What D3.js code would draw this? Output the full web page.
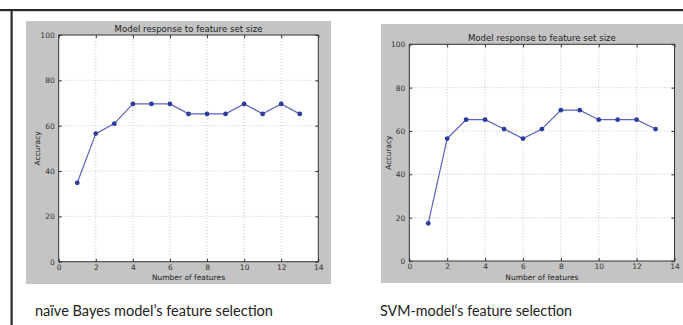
<!DOCTYPE html>
<html>
<head>
<meta charset="utf-8">
<script src="https://cdn.jsdelivr.net/npm/d3@7"></script>
<style>
  body { margin: 0; background: #fff; }
  svg { display: block; }
</style>
</head>
<body>
<div id="chart"></div>
<script>
// number of features on the x axis
const features = [1, 2, 3, 4, 5, 6, 7, 8, 9, 10, 11, 12, 13];
// accuracy (%) for each feature count
const bayesAccuracy = [34.8, 56.5, 60.9, 69.6, 69.6, 69.6, 65.2, 65.2, 65.2, 69.6, 65.2, 69.6, 65.2];
const svmAccuracy = [17.4, 56.5, 65.2, 65.2, 60.9, 56.5, 60.9, 69.6, 69.6, 65.2, 65.2, 65.2, 60.9];
const xTicks = [0, 2, 4, 6, 8, 10, 12, 14];
const yTicks = [0, 20, 40, 60, 80, 100];
const chartTitle = 'Model response to feature set size';
const xLabel = 'Number of features';
const yLabel = 'Accuracy';
const captions = ['naïve Bayes model’s feature selection', 'SVM-model‘s feature selection'];

const W = 683, H = 325;
const svg = d3.select('#chart').append('svg')
  .attr('width', W)
  .attr('height', H);

// page frame lines (top + left)
svg.append('rect').attr('x', 0).attr('y', 9).attr('width', W).attr('height', 2.2).attr('fill', '#2a2a2a');
svg.append('rect').attr('x', 10.5).attr('y', 9).attr('width', 2.2).attr('height', H - 9).attr('fill', '#2a2a2a');

function drawPanel(cfg, values) {
  // gray figure background
  svg.append('rect')
    .attr('x', cfg.panel[0]).attr('y', cfg.panel[1])
    .attr('width', cfg.panel[2]).attr('height', cfg.panel[3])
    .attr('fill', '#c4c4c4');

  const x = d3.scaleLinear().domain([0, 14]).range([cfg.left, cfg.right]);
  const y = d3.scaleLinear().domain([0, 100]).range([cfg.bottom, cfg.top]);

  const g = svg.append('g');
  g.append('rect')
    .attr('x', cfg.left).attr('y', cfg.top)
    .attr('width', cfg.right - cfg.left).attr('height', cfg.bottom - cfg.top)
    .attr('fill', '#fff');

  // grid
  g.selectAll('.vgrid').data(xTicks.slice(1, -1)).enter().append('line')
    .attr('x1', d => x(d)).attr('x2', d => x(d))
    .attr('y1', cfg.top).attr('y2', cfg.bottom)
    .attr('stroke', '#b8b8b8').attr('stroke-width', 0.8).attr('stroke-dasharray', '1,2');
  g.selectAll('.hgrid').data(yTicks.slice(1, -1)).enter().append('line')
    .attr('y1', d => y(d)).attr('y2', d => y(d))
    .attr('x1', cfg.left).attr('x2', cfg.right)
    .attr('stroke', '#b8b8b8').attr('stroke-width', 0.8).attr('stroke-dasharray', '1,2');

  // axes, ticks inward
  const axStyle = sel => {
    sel.select('.domain').remove();
    sel.selectAll('line').attr('stroke', '#333');
    sel.selectAll('text').attr('fill', '#333').style('font-family', 'DejaVu Sans').style('font-size', '7.5px');
  };
  g.append('g').attr('transform', `translate(0,${cfg.bottom})`)
    .call(d3.axisBottom(x).tickValues(xTicks).tickSizeInner(-3).tickPadding(3))
    .call(axStyle);
  g.append('g').attr('transform', `translate(${cfg.left},0)`)
    .call(d3.axisLeft(y).tickValues(yTicks).tickSizeInner(-3).tickPadding(4))
    .call(axStyle);
  g.append('g').attr('transform', `translate(0,${cfg.top})`)
    .call(d3.axisTop(x).tickValues(xTicks).tickSizeInner(-3).tickFormat(''))
    .call(axStyle);
  g.append('g').attr('transform', `translate(${cfg.right},0)`)
    .call(d3.axisRight(y).tickValues(yTicks).tickSizeInner(-3).tickFormat(''))
    .call(axStyle);

  g.append('rect')
    .attr('x', cfg.left).attr('y', cfg.top)
    .attr('width', cfg.right - cfg.left).attr('height', cfg.bottom - cfg.top)
    .attr('fill', 'none').attr('stroke', '#333').attr('stroke-width', 1);

  // data
  const pts = features.map((f, i) => [f, values[i]]);
  g.append('path')
    .datum(pts)
    .attr('d', d3.line().x(d => x(d[0])).y(d => y(d[1])))
    .attr('fill', 'none').attr('stroke', '#5b63c4').attr('stroke-width', 1.2);
  g.selectAll('.pt').data(pts).enter().append('circle')
    .attr('cx', d => x(d[0])).attr('cy', d => y(d[1]))
    .attr('r', 2.4).attr('fill', '#2c3c9c');

  // labels
  g.append('text')
    .attr('x', (cfg.left + cfg.right) / 2).attr('y', cfg.top - 3)
    .attr('text-anchor', 'middle')
    .style('font-family', 'DejaVu Sans').style('font-size', '8.6px').attr('fill', '#222')
    .text(chartTitle);
  g.append('text')
    .attr('x', (cfg.left + cfg.right) / 2).attr('y', cfg.bottom + 18.5)
    .attr('text-anchor', 'middle')
    .style('font-family', 'DejaVu Sans').style('font-size', '7.5px').attr('fill', '#222')
    .text(xLabel);
  g.append('text')
    .attr('transform', `translate(${cfg.ylabX},${(cfg.top + cfg.bottom) / 2}) rotate(-90)`)
    .attr('text-anchor', 'middle')
    .style('font-family', 'DejaVu Sans').style('font-size', '7.5px').attr('fill', '#222')
    .text(yLabel);

  // caption below the figure
  svg.append('text')
    .attr('x', cfg.capX).attr('y', 316)
    .attr('textLength', cfg.capW).attr('lengthAdjust', 'spacingAndGlyphs')
    .style('font-family', 'Lato').style('font-size', '14.5px').attr('fill', '#222')
    .text(cfg.caption);
}

drawPanel({
  panel: [26, 21, 305, 263],
  left: 58.7, right: 318.3, top: 35, bottom: 261.7,
  ylabX: 39.5, capX: 35, capW: 238, caption: captions[0]
}, bayesAccuracy);

drawPanel({
  panel: [381, 24, 302, 259],
  left: 409.3, right: 674.5, top: 44.3, bottom: 261,
  ylabX: 391, capX: 380, capW: 192, caption: captions[1]
}, svmAccuracy);
</script>
</body>
</html>
